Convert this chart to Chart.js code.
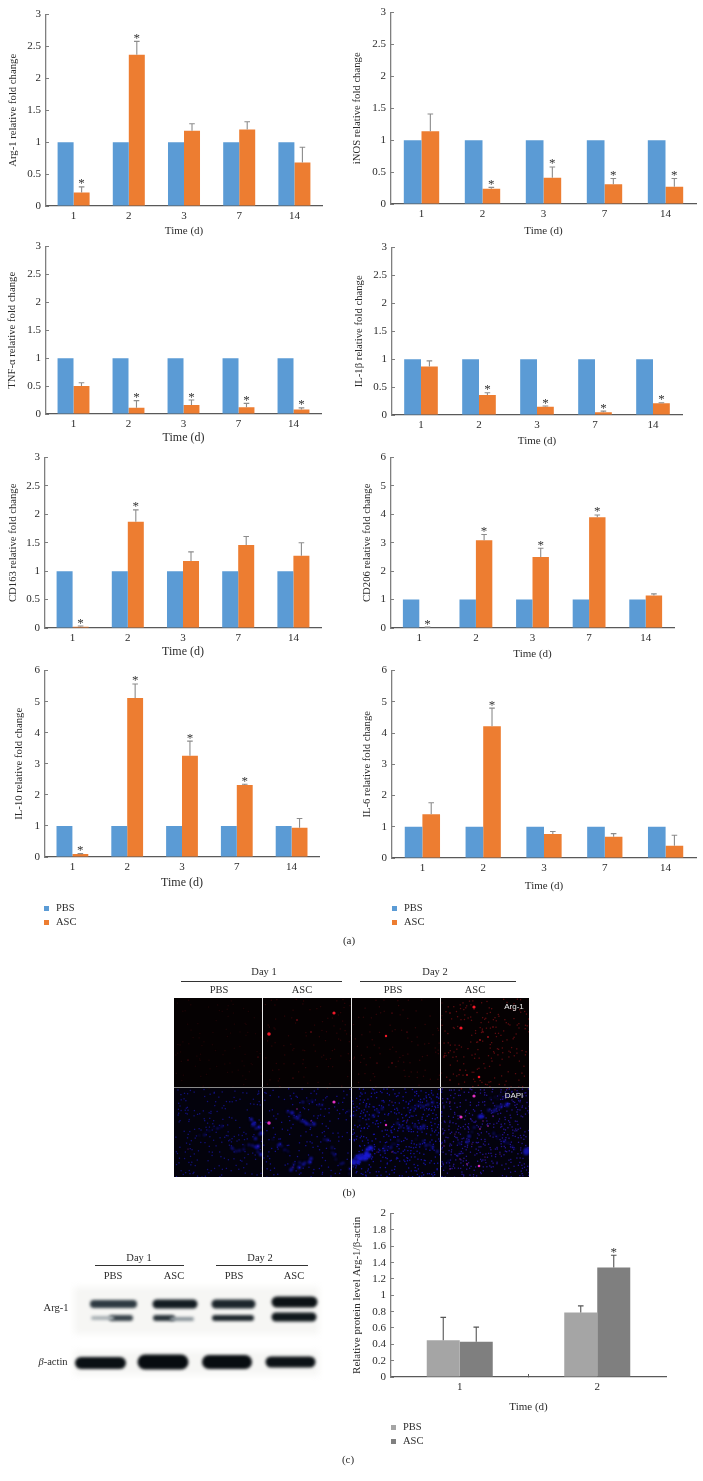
<!DOCTYPE html>
<html>
  <head>
    <meta charset="utf-8" />
    <script src="https://cdn.jsdelivr.net/npm/chart.js"></script>
    <style>
      html, body { margin: 0; padding: 0; background: #fff; }
      #page { position: relative; width: 703px; height: 1481px; overflow: hidden; font-family: "Liberation Serif", serif; color: #2b2b2b; }
      #page canvas { position: absolute; }
      .txt { position: absolute; transform: translate(-50%, -50%); white-space: nowrap; line-height: 1; }
      .line { position: absolute; height: 1px; background: #333; }
      .swatch { position: absolute; width: 5px; height: 5px; }
    </style>
  </head>

  <body>
    <div id="page"></div>
  </body>

  <script>
    // days on the x axis
    var days = ["1", "2", "3", "7", "14"];
    var pbs = [1, 1, 1, 1, 1];

    var argAsc = [0.21, 2.37, 1.18, 1.2, 0.68];
    var argErr = [0.09, 0.21, 0.11, 0.12, 0.24];
    var argStars = [1, 1, 0, 0, 0];

    var inosAsc = [1.14, 0.24, 0.41, 0.31, 0.27];
    var inosErr = [0.27, 0.02, 0.17, 0.09, 0.13];
    var inosStars = [0, 1, 1, 1, 1];

    var tnfAsc = [0.5, 0.11, 0.16, 0.12, 0.08];
    var tnfErr = [0.06, 0.13, 0.09, 0.07, 0.03];
    var tnfStars = [0, 1, 1, 1, 1];

    var il1Asc = [0.87, 0.36, 0.15, 0.05, 0.21];
    var il1Err = [0.1, 0.04, 0.01, 0.02, 0.01];
    var il1Stars = [0, 1, 1, 1, 1];

    var cd163Asc = [0.02, 1.87, 1.18, 1.46, 1.27];
    var cd163Err = [0.015, 0.21, 0.16, 0.15, 0.23];
    var cd163Stars = [1, 1, 0, 0, 0];

    var cd206Asc = [0.02, 3.09, 2.5, 3.9, 1.14];
    var cd206Err = [0.01, 0.2, 0.31, 0.08, 0.06];
    var cd206Stars = [1, 1, 1, 1, 0];

    var il10Asc = [0.1, 5.12, 3.26, 2.32, 0.94];
    var il10Err = [0.01, 0.45, 0.47, 0.02, 0.3];
    var il10Stars = [1, 1, 1, 1, 0];

    var il6Asc = [1.4, 4.22, 0.77, 0.68, 0.39];
    var il6Err = [0.37, 0.58, 0.08, 0.1, 0.34];
    var il6Stars = [0, 1, 0, 0, 0];

    var proteinDays = ["1", "2"];
    var proteinPbs = [0.45, 0.79];
    var proteinPbsErr = [0.28, 0.08];
    var proteinPbsStars = [0, 0];
    var proteinAsc = [0.43, 1.34];
    var proteinAscErr = [0.18, 0.15];
    var proteinAscStars = [0, 1];

    var BLUE = "#5b9bd5";
    var ORANGE = "#ed7d31";
    var LIGHT_GREY = "#a5a5a5";
    var DARK_GREY = "#7f7f7f";
    var page = document.getElementById("page");

    function label(html, x, y, size, extra) {
      var d = document.createElement("div");
      d.className = "txt";
      d.innerHTML = html;
      d.style.left = x + "px";
      d.style.top = y + "px";
      d.style.fontSize = size + "px";
      if (extra) Object.assign(d.style, extra);
      page.appendChild(d);
      return d;
    }

    function rule(x1, x2, y) {
      var d = document.createElement("div");
      d.className = "line";
      d.style.left = x1 + "px";
      d.style.top = y + "px";
      d.style.width = x2 - x1 + "px";
      page.appendChild(d);
    }

    function legend(x, y1, y2, c1, c2) {
      [[y1, c1, "PBS"], [y2, c2, "ASC"]].forEach(function (row) {
        var s = document.createElement("div");
        s.className = "swatch";
        s.style.left = x + "px";
        s.style.top = row[0] - 2.5 + "px";
        s.style.background = row[1];
        page.appendChild(s);
        var t = label(row[2], x + 12, row[0], 10.5);
        t.style.transform = "translate(0, -50%)";
      });
    }

    // error bars and asterisks, placed through the chart's own scales
    var errorBars = {
      id: "errorBars",
      afterDatasetsDraw: function (chart) {
        var ctx = chart.ctx;
        var y = chart.scales.y;
        chart.data.datasets.forEach(function (ds, d) {
          if (!ds.errs) return;
          var meta = chart.getDatasetMeta(d);
          ds.errs.forEach(function (e, i) {
            var x = meta.data[i].x;
            var top = y.getPixelForValue(ds.data[i] + e);
            var base = y.getPixelForValue(ds.data[i]);
            ctx.save();
            ctx.strokeStyle = ds.errColor;
            ctx.lineWidth = 1.1;
            ctx.beginPath();
            ctx.moveTo(x, base);
            ctx.lineTo(x, top);
            ctx.moveTo(x - 2.8, top);
            ctx.lineTo(x + 2.8, top);
            ctx.stroke();
            if (ds.stars[i]) {
              ctx.fillStyle = "#333";
              ctx.font = '13px "Liberation Serif"';
              ctx.textAlign = "center";
              ctx.textBaseline = "alphabetic";
              ctx.fillText("*", x, top + 0.5);
            }
            ctx.restore();
          });
        });
      },
    };

    function barChart(p) {
      var yFont = p.yFont || 10.7;
      var xFont = p.xFont || 11;
      var left = Math.round(p.titleX - (yFont * 1.2) / 2);
      var top = p.t - 12;
      var canvas = document.createElement("canvas");
      canvas.width = p.r - left + 4;
      canvas.height = Math.round(p.titleY + (xFont * 1.2) / 2) - top;
      canvas.style.left = left + "px";
      canvas.style.top = top + "px";
      page.appendChild(canvas);

      new Chart(canvas.getContext("2d"), {
        type: "bar",
        data: { labels: p.labels, datasets: p.datasets },
        options: {
          responsive: false,
          animation: false,
          devicePixelRatio: 1,
          layout: { padding: { top: 12, right: 4 } },
          datasets: { bar: { categoryPercentage: p.cat, barPercentage: 1 } },
          plugins: { legend: { display: false }, tooltip: { enabled: false } },
          scales: {
            x: {
              afterFit: function (s) { s.height = canvas.height - (p.b - top); },
              border: { color: "#595959", width: 1.3 },
              grid: {
                drawOnChartArea: false,
                drawTicks: !!p.midTick,
                tickLength: -3,
                // only the tick between the two groups shows
                tickColor: function (c) { return c.index === 1 ? "#595959" : "rgba(0,0,0,0)"; },
              },
              ticks: { color: "#2b2b2b", padding: p.midTick ? 7 : 4, font: { family: "Liberation Serif", size: 11 } },
              title: { display: true, text: "Time (d)", color: "#2b2b2b", padding: 0, font: { family: "Liberation Serif", size: xFont } },
            },
            y: {
              min: 0,
              max: p.max,
              afterFit: function (s) { s.width = p.l - left; },
              border: { color: "#7f7f7f", width: 1.3 },
              grid: { drawOnChartArea: false, tickLength: -3, tickColor: "#7f7f7f" },
              ticks: {
                stepSize: p.step,
                color: "#2b2b2b",
                padding: 8,
                font: { family: "Liberation Serif", size: 11 },
                callback: function (v) { return String(Math.round(v * 10) / 10); },
              },
              title: { display: true, text: p.yTitle, color: "#2b2b2b", padding: 0, font: { family: "Liberation Serif", size: yFont } },
            },
          },
        },
        plugins: [errorBars],
      });
    }

    function timecourse(g, yTitle, max, step, asc, errs, stars) {
      g.yTitle = yTitle;
      g.max = max;
      g.step = step;
      g.cat = 0.58;
      g.labels = days;
      g.datasets = [
        { label: "PBS", data: pbs, backgroundColor: BLUE },
        { label: "ASC", data: asc, backgroundColor: ORANGE, errs: errs, stars: stars, errColor: "#8c8c8c" },
      ];
      barChart(g);
    }

    timecourse({ l: 46, r: 322, t: 12, b: 206, titleX: 13, titleY: 231 }, "Arg-1 relative fold change", 3, 0.5, argAsc, argErr, argStars);
    timecourse({ l: 391, r: 696, t: 10, b: 204, titleX: 357, titleY: 231 }, "iNOS relative fold change", 3, 0.5, inosAsc, inosErr, inosStars);
    timecourse({ l: 46, r: 321, t: 244, b: 414, titleX: 12, titleY: 438, xFont: 12 }, "TNF-α relative fold change", 3, 0.5, tnfAsc, tnfErr, tnfStars);
    timecourse({ l: 392, r: 682, t: 245, b: 415, titleX: 359, titleY: 441 }, "IL-1β relative fold change", 3, 0.5, il1Asc, il1Err, il1Stars);
    timecourse({ l: 45, r: 321, t: 455, b: 628, titleX: 13, titleY: 652, xFont: 12 }, "CD163 relative fold change", 3, 0.5, cd163Asc, cd163Err, cd163Stars);
    timecourse({ l: 391, r: 674, t: 455, b: 628, titleX: 367, titleY: 654 }, "CD206 relative fold change", 6, 1, cd206Asc, cd206Err, cd206Stars);
    timecourse({ l: 45, r: 319, t: 668, b: 857, titleX: 19, titleY: 883, xFont: 12 }, "IL-10 relative fold change", 6, 1, il10Asc, il10Err, il10Stars);
    timecourse({ l: 392, r: 696, t: 668, b: 858, titleX: 367, titleY: 886 }, "IL-6 relative fold change", 6, 1, il6Asc, il6Err, il6Stars);

    barChart({
      l: 391, r: 666, t: 1211, b: 1377, titleX: 358, titleY: 1407, yFont: 11,
      yTitle: "Relative protein level Arg-1/β-actin", max: 2, step: 0.2, cat: 0.48, midTick: true,
      labels: proteinDays,
      datasets: [
        { label: "PBS", data: proteinPbs, backgroundColor: LIGHT_GREY, errs: proteinPbsErr, stars: proteinPbsStars, errColor: "#555" },
        { label: "ASC", data: proteinAsc, backgroundColor: DARK_GREY, errs: proteinAscErr, stars: proteinAscStars, errColor: "#555" },
      ],
    });

    legend(44, 908, 922, BLUE, ORANGE);
    legend(392, 908, 922, BLUE, ORANGE);
    legend(391, 1427, 1441, LIGHT_GREY, DARK_GREY);
    label("(a)", 349, 940, 11);
    label("(b)", 349, 1192, 11);
    label("(c)", 348, 1459, 11);

    var redSpots = [
      [269, 1034, 1.8], [334, 1013, 1.6], [474, 1007, 1.6], [461, 1028, 1.6], [386, 1036, 1.2], [479, 1077, 1.3],
      [297, 1020, 0.8], [311, 1032, 0.7], [480, 1040, 0.9], [488, 1037, 0.9], [467, 1075, 0.9], [392, 1063, 0.7],
      [377, 1063, 0.6], [407, 1032, 0.6], [392, 1013, 0.6], [450, 1013, 0.7], [444, 1057, 0.7], [460, 1070, 0.7],
      [483, 1032, 0.7], [493, 1027, 0.7], [450, 1080, 0.7], [258, 1057, 0.5], [188, 1060, 0.5], [293, 1078, 0.5],
      [500, 1065, 0.6], [472, 1055, 0.6], [455, 1045, 0.6], [485, 1068, 0.6],
    ];
    var blueStreaks = [
      [250, 1120, 262, 1135, 3], [255, 1140, 260, 1155, 3], [230, 1150, 258, 1145, 2], [288, 1112, 312, 1125, 3],
      [272, 1140, 290, 1152, 2], [325, 1140, 337, 1158, 2.5], [290, 1168, 310, 1161, 3], [340, 1163, 350, 1172, 2],
      [354, 1163, 372, 1144, 4], [352, 1160, 368, 1155, 5], [398, 1125, 425, 1128, 3], [370, 1118, 380, 1108, 2],
      [410, 1110, 430, 1100, 2], [345, 1110, 362, 1122, 2], [380, 1150, 400, 1140, 2], [415, 1140, 435, 1150, 2],
      [478, 1118, 505, 1105, 3.5], [460, 1145, 478, 1125, 2.5], [445, 1165, 460, 1150, 1.5], [490, 1130, 515, 1150, 1.5],
      [526, 1150, 528, 1152, 7], [200, 1135, 222, 1125, 1.5], [300, 1100, 320, 1105, 1.5], [490, 1100, 510, 1095, 1.5],
    ];

    // photo grain only, not chart data
    function grain(x, y, seed) {
      var n = Math.sin(x * 12.9898 + y * 78.233 + seed) * 43758.5453;
      return n - Math.floor(n);
    }

    function speckle(ctx, x0, y0, w, h, step, color, seed, keep) {
      ctx.fillStyle = color;
      for (var y = y0; y < y0 + h; y += step) {
        for (var x = x0; x < x0 + w; x += step) {
          var n = grain(x, y, seed);
          if (n < keep) {
            ctx.fillRect(x + ((n * 97) % 1) * step, y + ((n * 31) % 1) * step, 1.3, 1.3);
          }
        }
      }
    }

    function drawPhoto() {
      var c = document.createElement("canvas");
      c.width = 703;
      c.height = 1481;
      c.style.left = "0px";
      c.style.top = "0px";
      page.insertBefore(c, page.firstChild);
      var ctx = c.getContext("2d");

      ctx.fillStyle = "#050102";
      ctx.fillRect(174, 998, 355, 89);
      ctx.fillStyle = "#03020c";
      ctx.fillRect(174, 1087, 355, 90);

      ctx.save();
      ctx.beginPath();
      ctx.rect(174, 998, 355, 179);
      ctx.clip();
      ctx.filter = "blur(0.7px)";
      speckle(ctx, 174, 998, 88, 89, 5, "#1c0406", 1, 0.25);
      speckle(ctx, 263, 998, 88, 89, 5, "#2a0507", 2, 0.3);
      speckle(ctx, 352, 998, 88, 89, 5, "#300609", 3, 0.3);
      speckle(ctx, 441, 998, 88, 89, 4, "#5c0c10", 4, 0.35);
      speckle(ctx, 174, 1088, 88, 89, 4, "#12107a", 5, 0.4);
      speckle(ctx, 263, 1088, 88, 89, 4, "#14108a", 6, 0.4);
      speckle(ctx, 352, 1088, 88, 89, 3, "#1612a0", 7, 0.5);
      speckle(ctx, 441, 1088, 88, 89, 3, "#241490", 8, 0.5);

      // cell clusters: broken chains of blobs along each streak
      ctx.filter = "blur(1px)";
      blueStreaks.forEach(function (s) {
        var len = Math.hypot(s[2] - s[0], s[3] - s[1]);
        var steps = Math.max(1, Math.round(len / 2.5));
        for (var i = 0; i <= steps; i++) {
          var n = grain(s[0] + i, s[1] - i, 11);
          if (n < 0.2 && steps > 1) continue;
          var x = s[0] + ((s[2] - s[0]) * i) / steps + (n - 0.5) * 5;
          var y = s[1] + ((s[3] - s[1]) * i) / steps + (((n * 7) % 1) - 0.5) * 5;
          ctx.fillStyle = n > 0.6 ? "#1a1ad8" : "#1414a8";
          ctx.beginPath();
          ctx.arc(x, y, (s[4] / 2) * (0.5 + n * 0.7), 0, Math.PI * 2);
          ctx.fill();
        }
      });
      ctx.filter = "blur(0.5px)";
      redSpots.forEach(function (s) {
        ctx.fillStyle = s[2] > 1 ? "#f01828" : "#a8121c";
        ctx.beginPath();
        ctx.arc(s[0], s[1], s[2], 0, Math.PI * 2);
        ctx.fill();
        ctx.fillStyle = s[2] > 1 ? "#e030c0" : "#802090";
        ctx.beginPath();
        ctx.arc(s[0], s[1] + 89, s[2], 0, Math.PI * 2);
        ctx.fill();
      });
      ctx.restore();

      ctx.fillStyle = "#e8e8e8";
      [262, 351, 440].forEach(function (x) { ctx.fillRect(x, 998, 1, 179); });
      ctx.fillStyle = "#8a8a8a";
      ctx.fillRect(174, 1087, 355, 1);

      // (c) western blot, bands as [x1, x2, y, thickness, colour]
      var bands = [
        [94, 133, 1304, 8, "#2e3a42"], [157, 193, 1304, 9, "#131c22"], [216, 251, 1304, 9, "#1d262c"], [277, 312, 1302, 11, "#0c1216"],
        [112, 130, 1318, 6, "#3a454c"], [93, 112, 1318, 4, "#a8b0b4"], [156, 172, 1318, 6, "#2a343a"], [172, 192, 1319, 4, "#8a949a"],
        [215, 251, 1318, 6, "#1f282e"], [276, 312, 1317, 9, "#10181c"],
        [81, 120, 1363, 12, "#0a1014"], [145, 181, 1362, 15, "#070c10"], [209, 245, 1362, 14, "#080d11"], [271, 310, 1362, 11, "#0c1216"],
      ];
      ctx.save();
      ctx.filter = "blur(3px)";
      ctx.fillStyle = "#f6f6f4";
      ctx.fillRect(74, 1287, 245, 47);
      ctx.fillRect(74, 1351, 245, 24);
      ctx.filter = "blur(1.5px)";
      ctx.lineCap = "round";
      bands.forEach(function (b) {
        ctx.strokeStyle = b[4];
        ctx.lineWidth = b[3];
        ctx.beginPath();
        ctx.moveTo(b[0], b[2]);
        ctx.lineTo(b[1], b[2]);
        ctx.stroke();
      });
      ctx.restore();
    }
    drawPhoto();

    label("Day 1", 264, 972, 10.5);
    label("Day 2", 435, 972, 10.5);
    rule(181, 342, 981);
    rule(360, 516, 981);
    label("PBS", 219, 990, 10.5);
    label("ASC", 302, 990, 10.5);
    label("PBS", 393, 990, 10.5);
    label("ASC", 475, 990, 10.5);
    label("Arg-1", 514, 1007, 8, { color: "#e8e8e8", fontFamily: "Liberation Sans" });
    label("DAPI", 514, 1096, 8, { color: "#e8e8e8", fontFamily: "Liberation Sans" });

    label("Day 1", 139, 1258, 10.5);
    label("Day 2", 260, 1258, 10.5);
    rule(95, 184, 1265);
    rule(216, 308, 1265);
    label("PBS", 113, 1276, 10.5);
    label("ASC", 174, 1276, 10.5);
    label("PBS", 234, 1276, 10.5);
    label("ASC", 294, 1276, 10.5);
    label("Arg-1", 56, 1308, 10.5);
    label("<i>β</i>-actin", 53, 1362, 10.5);
  </script>
</html>
